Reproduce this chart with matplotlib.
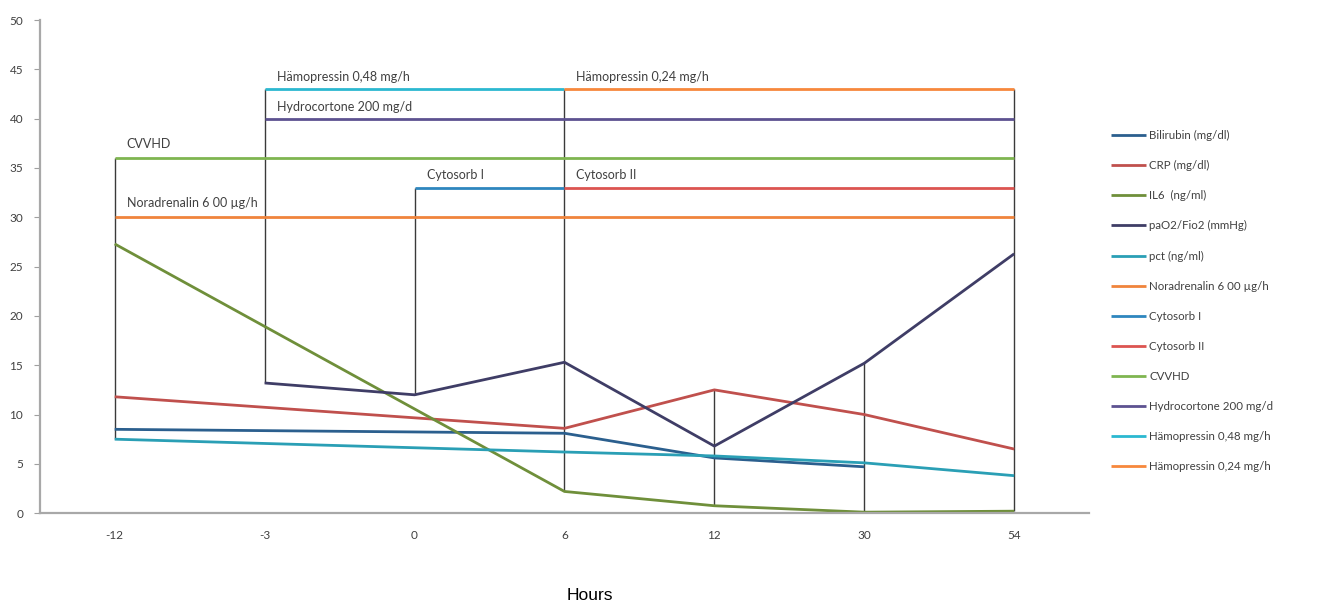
import numpy as np
import matplotlib.pyplot as plt

nan = np.nan

# Kategorien (Stunden)
hours = ["-12", "-3", "0", "6", "12", "30", "54"]

# Laborwerte
bilirubin = [8.5, nan, nan, 8.1, 5.6, 4.7, nan]
crp = [11.8, nan, nan, 8.6, 12.5, 10.0, 6.5]
il6 = [27.3, nan, nan, 2.2, 0.75, 0.1, 0.2]
pao2 = [nan, 13.2, 12.0, 15.3, 6.8, 15.2, 26.3]
pct = [7.5, nan, nan, 6.2, 5.8, 5.1, 3.8]

# Therapie-Balken
noradrenalin = [30, nan, nan, nan, nan, nan, 30]
cytosorb1 = [nan, nan, 33, 33, nan, nan, nan]
cytosorb2 = [nan, nan, nan, 33, nan, nan, 33]
cvvhd = [36, nan, nan, nan, nan, nan, 36]
hydrocortone = [nan, 40, nan, nan, nan, nan, 40]
haemo048 = [nan, 43, nan, 43, nan, nan, nan]
haemo024 = [nan, nan, nan, 43, nan, nan, 43]

series = [
    ("Bilirubin (mg/dl)", bilirubin, "#2b5f8e"),
    ("CRP (mg/dl)", crp, "#c0504d"),
    ("IL6  (ng/ml)", il6, "#6f8f3a"),
    ("paO2/Fio2 (mmHg)", pao2, "#3f3d66"),
    ("pct (ng/ml)", pct, "#2a9fb5"),
    ("Noradrenalin 6 00 µg/h", noradrenalin, "#f0843c"),
    ("Cytosorb I", cytosorb1, "#2e86be"),
    ("Cytosorb II", cytosorb2, "#dc5450"),
    ("CVVHD", cvvhd, "#7fb550"),
    ("Hydrocortone 200 mg/d", hydrocortone, "#5d5290"),
    ("Hämopressin 0,48 mg/h", haemo048, "#2bb8d0"),
    ("Hämopressin 0,24 mg/h", haemo024, "#f7883c"),
]

# Beschriftungen im Diagramm: (Text, Kategorie-Index, y)
labels = [
    ("CVVHD", 0, 36.8),
    ("Noradrenalin 6 00 µg/h", 0, 30.8),
    ("Hämopressin 0,48 mg/h", 1, 43.6),
    ("Hydrocortone 200 mg/d", 1, 40.6),
    ("Cytosorb I", 2, 33.7),
    ("Cytosorb II", 3, 33.7),
    ("Hämopressin 0,24 mg/h", 3, 43.6),
]

plt.rcParams['font.family'] = ['Lato', 'DejaVu Sans']

fig = plt.figure(figsize=(13.25, 6.08), dpi=100)
ax = fig.add_axes([0.030, 0.156, 0.792, 0.811])

x = np.arange(len(hours))
data = np.array([s[1] for s in series], dtype=float)

# High-Low-Linien
hi = np.nanmax(data, axis=0)
lo = np.nanmin(data, axis=0)
ax.vlines(x, lo, hi, color="#3a3a3a", lw=1.0, zorder=1)

for name, vals, col in series:
    v = np.array(vals, dtype=float)
    m = ~np.isnan(v)
    ax.plot(x[m], v[m], color=col, lw=2.0, label=name, zorder=2,
            solid_capstyle="butt")

for txt, xi, yv in labels:
    ax.text(xi + 0.08, yv, txt, fontsize=9, color="#404040", va="bottom")

ax.set_xlim(-0.5, len(hours) - 0.5)
ax.set_ylim(0, 50)
ax.set_xticks(x)
ax.set_xticklabels(hours)
ax.set_yticks(np.arange(0, 51, 5))
ax.tick_params(axis="x", length=0, pad=12, labelsize=8.5, labelcolor="#404040")
ax.tick_params(axis="y", length=4, direction="out", color="#a0a0a0",
               pad=8, labelsize=8.5, labelcolor="#404040")
for sp in ["top", "right"]:
    ax.spines[sp].set_visible(False)
for sp in ["left", "bottom"]:
    ax.spines[sp].set_color("#a8a8a8")
    ax.spines[sp].set_linewidth(1.6)

fig.text(0.445, 0.008, "Hours", fontsize=12.5, family="Liberation Sans",
         ha="center", va="bottom")

fig.legend(loc="center left", bbox_to_anchor=(0.831, 0.505), frameon=False,
           fontsize=8.3, labelspacing=1.65, handlelength=3.0, handletextpad=0.3,
           labelcolor="#404040")

fig.savefig("out.png", dpi=100)
